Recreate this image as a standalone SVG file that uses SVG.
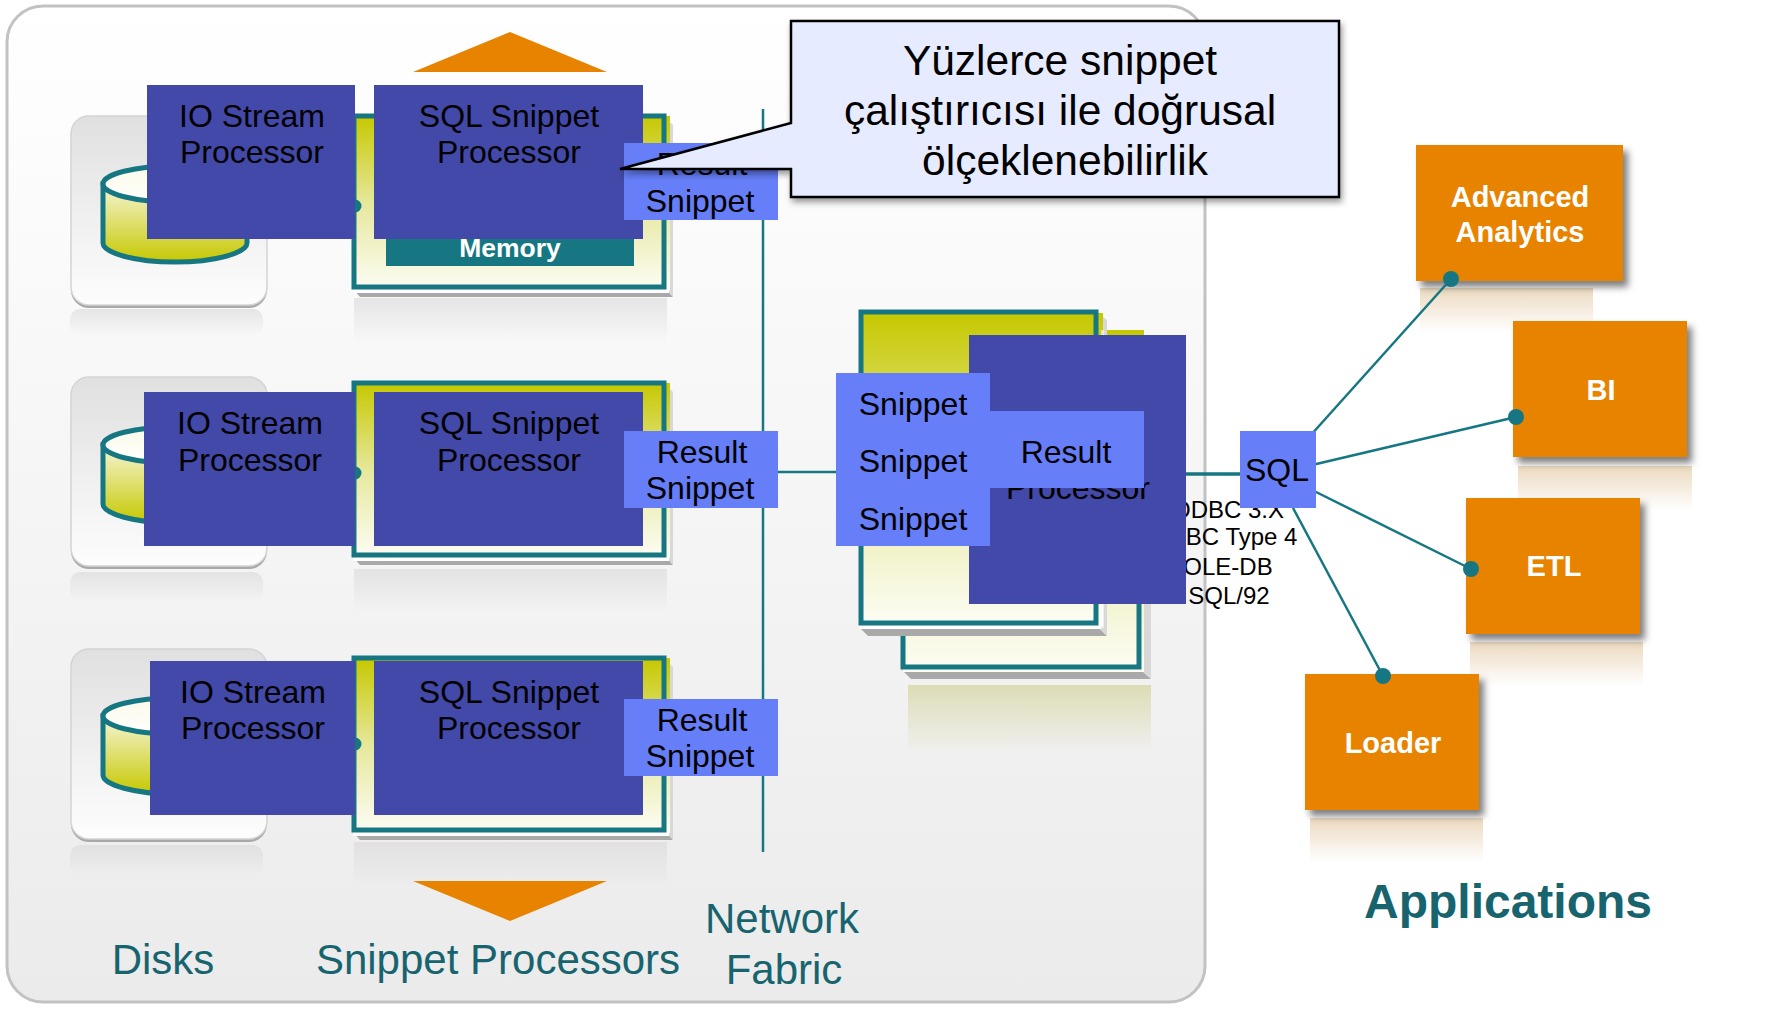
<svg xmlns="http://www.w3.org/2000/svg" width="1767" height="1009" viewBox="0 0 1767 1009">
<style>
text{font-family:"Liberation Sans",Arial,sans-serif;fill:#000;text-anchor:middle}
.b32{font-size:32px}
.lab{font-size:42px;fill:#17646f}
.small{font-size:24px}
.app{font-size:29px;font-weight:bold;fill:#fff}
.dark{fill:#4349a8}
.light{fill:#667ef8}
.orange{fill:#e88300}
.wire{stroke:#167782;fill:none;stroke-width:2.5}
.dot{fill:#167782}
.board{fill:url(#gBoard)}
.frame{fill:none;stroke:#167782;stroke-width:5}
.bevS{fill:#d8d8d8}
.bevB{fill:#a9a9a9}
.card{fill:url(#gCard);stroke:#d4d4d4;stroke-width:1.5}
.cardB{fill:#a9a9a9}
.rGray{fill:url(#gRefG)}
.rOr{fill:url(#gRefO)}
.cyl{fill:url(#gCyl);stroke:#167782;stroke-width:5}
.cylT{fill:url(#gCylT);stroke:#167782;stroke-width:5}
</style>
<defs>
<linearGradient id="gPanel" x1="0" y1="0" x2="0" y2="1"><stop offset="0" stop-color="#ffffff"/><stop offset="1" stop-color="#ebebeb"/></linearGradient>
<linearGradient id="gBoard" x1="0" y1="0" x2="0" y2="1"><stop offset="0" stop-color="#c6c800"/><stop offset="0.5" stop-color="#e6e89c"/><stop offset="1" stop-color="#fdfdf6"/></linearGradient>
<linearGradient id="gCard" x1="0" y1="0" x2="0" y2="1"><stop offset="0" stop-color="#e0e0e0"/><stop offset="1" stop-color="#fdfdfd"/></linearGradient>
<linearGradient id="gRefG" x1="0" y1="0" x2="0" y2="1"><stop offset="0" stop-color="#d8d8d8" stop-opacity="0.6"/><stop offset="1" stop-color="#d8d8d8" stop-opacity="0"/></linearGradient>
<linearGradient id="gRefO" x1="0" y1="0" x2="0" y2="1"><stop offset="0" stop-color="#e8d3b4" stop-opacity="0.85"/><stop offset="1" stop-color="#e8d3b4" stop-opacity="0"/></linearGradient>
<linearGradient id="gRefY" x1="0" y1="0" x2="0" y2="1"><stop offset="0" stop-color="#dcdcb6"/><stop offset="1" stop-color="#dcdcb6" stop-opacity="0"/></linearGradient>
<linearGradient id="gCyl" x1="0" y1="0" x2="0" y2="1"><stop offset="0" stop-color="#f6f6d8"/><stop offset="1" stop-color="#c6c800"/></linearGradient>
<linearGradient id="gCylT" x1="0" y1="0" x2="0" y2="1"><stop offset="0" stop-color="#fafae8"/><stop offset="1" stop-color="#ffffff"/></linearGradient>
<filter id="shadow" x="-10%" y="-10%" width="125%" height="125%"><feDropShadow dx="5" dy="6" stdDeviation="3.5" flood-color="#000" flood-opacity="0.5"/></filter>
<filter id="shadowC" x="-5%" y="-10%" width="110%" height="125%"><feDropShadow dx="2" dy="4" stdDeviation="3" flood-color="#000" flood-opacity="0.4"/></filter>
</defs>

<rect width="1767" height="1009" fill="#fff"/>
<rect id="panel" x="7" y="6" width="1198" height="996" rx="36" fill="url(#gPanel)" stroke="#c2c2c2" stroke-width="3"/>

<g id="disk-1">
<rect class="rGray" x="70" y="309" width="193" height="27" rx="10"/>
<rect class="cardB" x="71" y="120" width="196" height="188" rx="18"/>
<rect class="card" x="71" y="116" width="196" height="189" rx="18"/>
<path class="cyl" d="M103 184V243C103 253 135 262 175 262S247 253 247 243V184Z"/>
<ellipse class="cylT" cx="175" cy="184" rx="72" ry="18"/>
</g>
<g id="disk-2">
<rect class="rGray" x="70" y="572" width="193" height="30" rx="10"/>
<rect class="cardB" x="71" y="381" width="196" height="188" rx="18"/>
<rect class="card" x="71" y="377" width="196" height="189" rx="18"/>
<path class="cyl" d="M103 445V504C103 514 135 523 175 523S247 514 247 504V445Z"/>
<ellipse class="cylT" cx="175" cy="445" rx="72" ry="18"/>
</g>
<g id="disk-3">
<rect class="rGray" x="70" y="845" width="193" height="30" rx="10"/>
<rect class="cardB" x="71" y="653" width="196" height="189" rx="18"/>
<rect class="card" x="71" y="649" width="196" height="190" rx="18"/>
<path class="cyl" d="M103 716V775C103 785 135 794 175 794S247 785 247 775V716Z"/>
<ellipse class="cylT" cx="175" cy="716" rx="72" ry="18"/>
</g>

<g id="board-1">
<polygon class="rGray" points="354,298 667,298 667,343 354,343"/>
<polygon class="bevB" points="353,289 666,289 673,297 360,297"/>
<polygon class="bevS" points="666,118 673,125 673,297 666,289"/>
<rect class="board" x="353" y="116" width="317" height="175"/>
<rect x="353" y="289" width="316" height="4" fill="#fff"/>
<rect class="frame" x="354" y="116" width="310" height="171"/>
<rect x="386" y="230" width="248" height="36" fill="#167782"/>
<text x="510" y="257" font-size="26.5" font-weight="bold" style="fill:#fff">Memory</text>
</g>
<g id="board-2">
<polygon class="rGray" points="354,569 667,569 667,612 354,612"/>
<polygon class="bevB" points="353,557 666,557 673,565 360,565"/>
<polygon class="bevS" points="666,385 673,392 673,565 666,557"/>
<rect class="board" x="353" y="383" width="317" height="175"/>
<rect x="353" y="557" width="316" height="4" fill="#fff"/>
<rect class="frame" x="354" y="383" width="310" height="172"/>
</g>
<g id="board-3">
<polygon class="rGray" points="354,842 667,842 667,886 354,886"/>
<polygon class="bevB" points="353,832 666,832 673,840 360,840"/>
<polygon class="bevS" points="666,660 673,667 673,840 666,832"/>
<rect class="board" x="353" y="658" width="317" height="175"/>
<rect x="353" y="832" width="316" height="4" fill="#fff"/>
<rect class="frame" x="354" y="658" width="310" height="172"/>
</g>

<g id="host-board-back">
<rect x="908" y="685" width="243" height="68" fill="url(#gRefY)"/>
<polygon class="bevB" points="902,670 1141,670 1151,679 911,679"/>
<polygon class="bevS" points="1141,350 1151,350 1151,679 1141,670"/>
<rect class="board" x="903" y="330" width="241" height="342"/>
<rect class="frame" x="903" y="350" width="236" height="317"/>
</g>
<g id="host-board-front">
<polygon class="bevB" points="859,627 1098,627 1107,636 868,636"/>
<polygon class="bevS" points="1098,313 1107,320 1107,636 1098,627"/>
<rect class="board" x="860" y="313" width="243" height="313"/>
<rect x="859" y="625" width="242" height="4" fill="#fff"/>
<rect x="1101" y="330" width="3" height="298" fill="#fff" opacity="0.6"/>
<rect class="frame" x="861" y="312" width="235" height="311"/>
</g>

<g id="triangles">
<polygon class="orange" points="510,32 607,72 413,72"/>
<polygon class="orange" points="413,881 607,881 510,921"/>
</g>

<g id="labels">
<text class="lab" x="163" y="974">Disks</text>
<text class="lab" x="498" y="974">Snippet Processors</text>
<text class="lab" x="782" y="933">Network</text>
<text class="lab" x="784" y="984">Fabric</text>
<text x="1508" y="918" font-size="48" font-weight="bold" style="fill:#17646f">Applications</text>
</g>

<g id="protocols">
<text class="small" x="1228" y="518">ODBC 3.X</text>
<text class="small" x="1227" y="545">JDBC Type 4</text>
<text class="small" x="1228" y="575">OLE-DB</text>
<text class="small" x="1229" y="604">SQL/92</text>
</g>

<g id="app-advanced">
<rect class="rOr" x="1420" y="288" width="173" height="44"/>
<rect class="orange" x="1416" y="145" width="207" height="136" filter="url(#shadow)"/>
<text class="app" x="1520" y="207">Advanced</text>
<text class="app" x="1520" y="242">Analytics</text>
</g>
<g id="app-bi">
<rect class="rOr" x="1518" y="466" width="174" height="44"/>
<rect class="orange" x="1513" y="321" width="174" height="136" filter="url(#shadow)"/>
<text class="app" x="1601" y="400">BI</text>
</g>
<g id="app-etl">
<rect class="rOr" x="1470" y="642" width="173" height="44"/>
<rect class="orange" x="1466" y="498" width="174" height="136" filter="url(#shadow)"/>
<text class="app" x="1554" y="576">ETL</text>
</g>
<g id="app-loader">
<rect class="rOr" x="1310" y="818" width="173" height="44"/>
<rect class="orange" x="1305" y="674" width="174" height="136" filter="url(#shadow)"/>
<text class="app" x="1393" y="753">Loader</text>
</g>

<g id="connectors">
<line class="wire" x1="763" y1="109" x2="763" y2="852"/>
<line class="wire" x1="763" y1="472" x2="840" y2="472"/>
<line class="wire" x1="1186" y1="474" x2="1242" y2="474" style="stroke-width:3.5"/>
<line class="wire" x1="1310" y1="436" x2="1451" y2="279"/>
<line class="wire" x1="1312" y1="465" x2="1516" y2="417"/>
<line class="wire" x1="1312" y1="490" x2="1471" y2="569"/>
<line class="wire" x1="1293" y1="508" x2="1383" y2="676"/>
<circle class="dot" cx="1451" cy="279" r="8"/>
<circle class="dot" cx="1516" cy="417" r="8"/>
<circle class="dot" cx="1471" cy="569" r="8"/>
<circle class="dot" cx="1383" cy="676" r="8"/>
<circle class="dot" cx="355" cy="206" r="6.5"/>
<circle class="dot" cx="355" cy="473" r="6.5"/>
<circle class="dot" cx="355" cy="744" r="6.5"/>
</g>

<g id="io-1"><rect class="dark" x="147" y="85" width="208" height="154"/><text class="b32" x="252" y="127">IO Stream</text><text class="b32" x="252" y="163">Processor</text></g>
<g id="sql-1"><rect class="dark" x="374" y="85" width="269" height="154"/><text class="b32" x="509" y="127">SQL Snippet</text><text class="b32" x="509" y="163">Processor</text></g>
<g id="result-1"><rect class="light" x="624" y="143" width="154" height="77"/><text class="b32" x="702" y="175">Result</text><text class="b32" x="700" y="212">Snippet</text></g>

<g id="io-2"><rect class="dark" x="144" y="392" width="211" height="154"/><text class="b32" x="250" y="434">IO Stream</text><text class="b32" x="250" y="471">Processor</text></g>
<g id="sql-2"><rect class="dark" x="374" y="392" width="269" height="154"/><text class="b32" x="509" y="434">SQL Snippet</text><text class="b32" x="509" y="471">Processor</text></g>
<g id="result-2"><rect class="light" x="624" y="431" width="154" height="77"/><text class="b32" x="702" y="463">Result</text><text class="b32" x="700" y="499">Snippet</text></g>

<g id="io-3"><rect class="dark" x="150" y="661" width="205" height="154"/><text class="b32" x="253" y="703">IO Stream</text><text class="b32" x="253" y="739">Processor</text></g>
<g id="sql-3"><rect class="dark" x="374" y="661" width="269" height="154"/><text class="b32" x="509" y="703">SQL Snippet</text><text class="b32" x="509" y="739">Processor</text></g>
<g id="result-3"><rect class="light" x="624" y="699" width="154" height="77"/><text class="b32" x="702" y="731">Result</text><text class="b32" x="700" y="767">Snippet</text></g>

<g id="host-processor"><rect class="dark" x="969" y="335" width="217" height="269"/><text class="b32" x="1078" y="499">Processor</text></g>
<g id="host-result"><rect class="light" x="990" y="411" width="154" height="77"/><text class="b32" x="1066" y="463">Result</text></g>
<g id="host-snippets"><rect class="light" x="836" y="373" width="154" height="173"/><text class="b32" x="913" y="415">Snippet</text><text class="b32" x="913" y="472">Snippet</text><text class="b32" x="913" y="530">Snippet</text></g>
<g id="sql-port"><rect class="light" x="1240" y="431" width="76" height="77"/><text class="b32" x="1277" y="481">SQL</text></g>

<g id="callout">
<path d="M791 21H1339V197H791V169H620L791 123Z" fill="#e6ebff" stroke="#000" stroke-width="2.5" stroke-linejoin="miter" filter="url(#shadowC)"/>
<text x="1060" y="75" font-size="42.5">Yüzlerce snippet</text>
<text x="1060" y="125" font-size="42.5">çalıştırıcısı ile doğrusal</text>
<text x="1065" y="175" font-size="42.5">ölçeklenebilirlik</text>
</g>
</svg>
